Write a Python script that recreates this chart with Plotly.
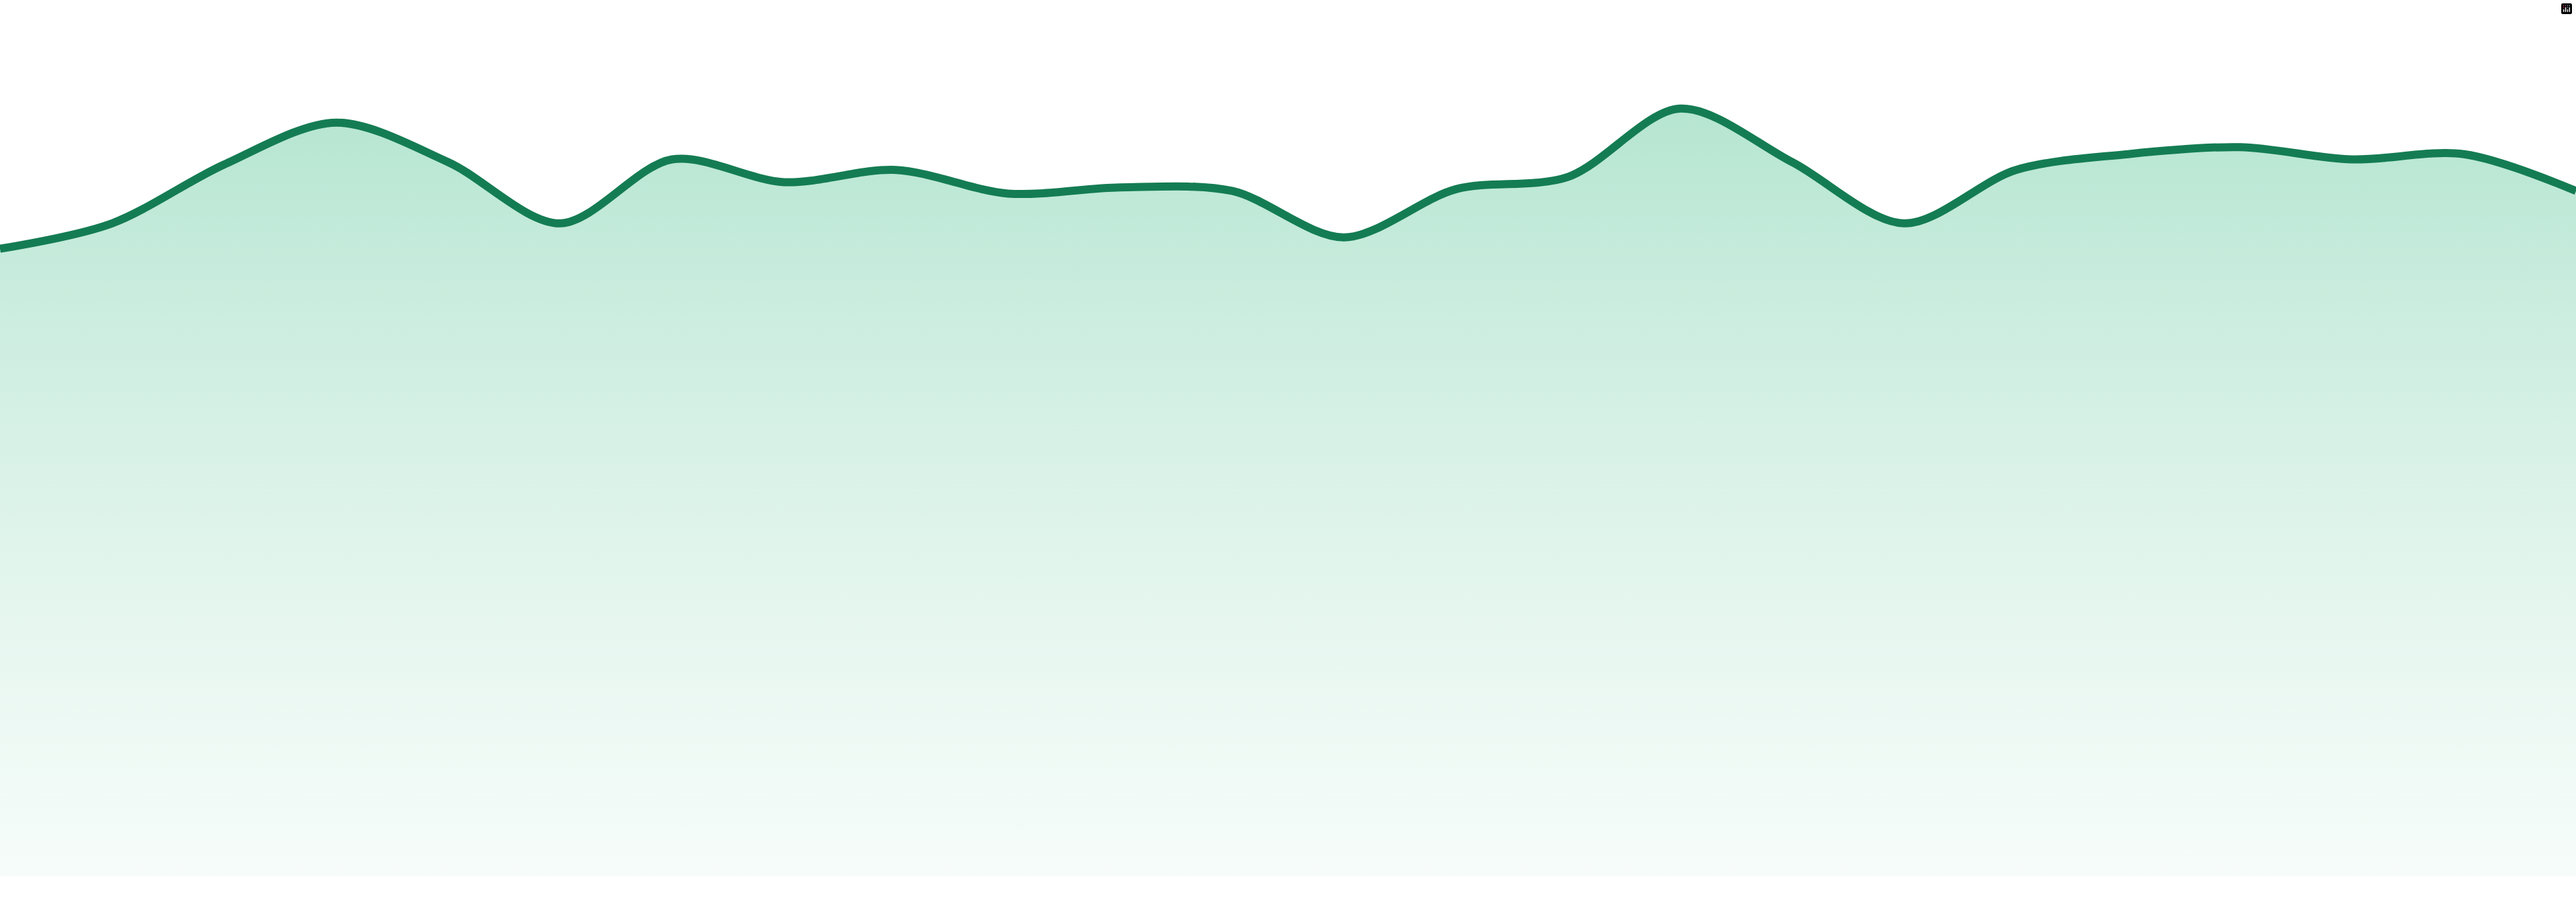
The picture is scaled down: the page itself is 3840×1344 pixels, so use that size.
import plotly.graph_objects as go

# 24 evenly spaced samples (axis 0-100)
x_index = list(range(24))
values = [
    71.6, 74.5, 81.2, 86.0, 81.5, 74.5, 81.8, 79.2,
    80.6, 77.9, 78.6, 78.2, 72.9, 78.4, 79.8, 87.6,
    81.5, 74.5, 80.6, 82.4, 83.2, 81.8, 82.4, 78.2,
]

LINE_COLOR = "#147c53"

fig = go.Figure()

fig.add_trace(go.Scatter(
    x=x_index,
    y=values,
    mode="lines",
    line=dict(color=LINE_COLOR, width=12, shape="spline", smoothing=0.9),
    fill="tozeroy",
    fillgradient=dict(
        type="vertical",
        start=0,
        stop=88,
        colorscale=[
            [0.0, "rgba(240,250,246,0.6)"],
            [1.0, "rgb(181,229,209)"],
        ],
    ),
    hoverinfo="skip",
    showlegend=False,
))

fig.update_layout(
    width=3840,
    height=1344,
    margin=dict(l=0, r=0, t=0, b=39),
    paper_bgcolor="white",
    plot_bgcolor="white",
    showlegend=False,
    # modebar buttons drawn invisible
    modebar=dict(bgcolor="rgba(0,0,0,0)", color="rgba(0,0,0,0)", activecolor="rgba(0,0,0,0)"),
)
fig.update_xaxes(visible=False, range=[0, 23], showgrid=False, zeroline=False)
fig.update_yaxes(visible=False, range=[0, 100], showgrid=False, zeroline=False)

# page body has a default 8px margin; drop it so the plot sits flush
fig.write_html("out.html", post_script="document.body.style.margin='0';")
